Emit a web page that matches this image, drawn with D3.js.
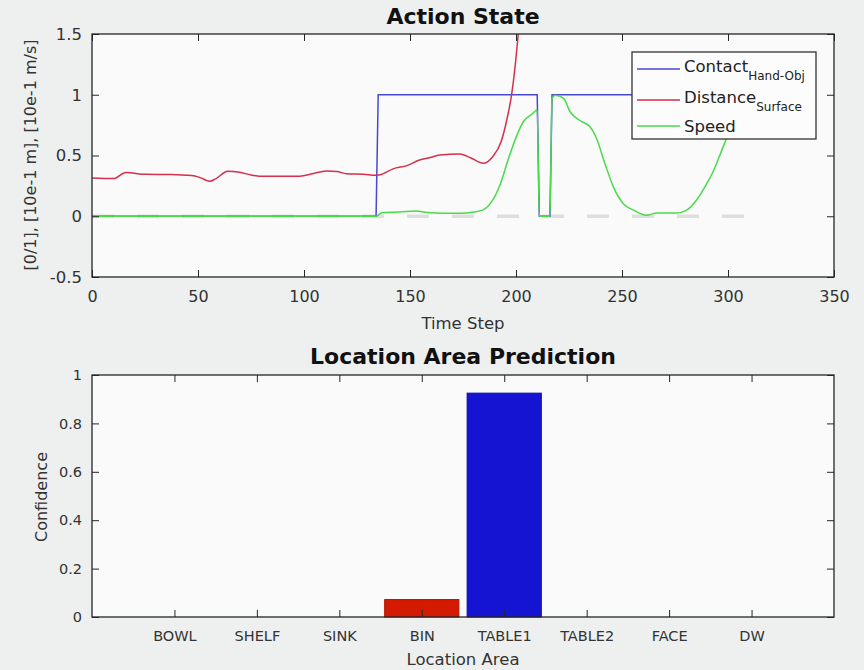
<!DOCTYPE html>
<html>
<head>
<meta charset="utf-8">
<script src="https://cdn.jsdelivr.net/npm/d3@7"></script>
<style>
  html, body { margin: 0; padding: 0; background: #eef0f0; }
  svg { display: block; font-family: "DejaVu Sans", sans-serif; }
</style>
</head>
<body>
<svg id="fig" width="864" height="670"></svg>
<script>
// ---- Action state time series ----
const contactT = [0, 134, 135, 210, 211, 216, 217, 306];
const contactV = [0, 0, 1, 1, 0, 0, 1, 1];

const distanceT = [0, 10, 16, 25, 37, 47, 51, 55.5, 58.5, 64, 69.5, 75, 81, 92, 98, 104, 110.5, 115.5, 120, 128, 134, 136.5, 139, 142, 148.5, 154.5, 159.5, 164, 173.5, 179, 184.5, 189, 193, 195.5, 198, 199.5, 201, 203];
const distanceV = [0.315, 0.31, 0.36, 0.345, 0.343, 0.335, 0.318, 0.288, 0.31, 0.37, 0.362, 0.34, 0.329, 0.329, 0.33, 0.35, 0.373, 0.368, 0.35, 0.345, 0.337, 0.343, 0.365, 0.39, 0.417, 0.463, 0.483, 0.505, 0.513, 0.477, 0.436, 0.49, 0.615, 0.78, 1.01, 1.22, 1.49, 1.9];

const speedT = [0, 134, 137, 145, 153, 158, 166, 174, 180, 184.5, 188.5, 192.5, 196.5, 200.5, 203.5, 207.5, 210, 211, 216, 217, 218.5, 222.5, 225.5, 230, 235, 238, 242, 246, 250.5, 255.5, 261.5, 266.5, 276, 280.5, 285, 290, 292.5, 297, 299.5, 303, 306];
const speedV = [0, 0, 0.03, 0.035, 0.044, 0.03, 0.025, 0.025, 0.035, 0.052, 0.12, 0.26, 0.477, 0.67, 0.78, 0.84, 0.875, 0, 0, 0.97, 0.996, 0.97, 0.86, 0.79, 0.735, 0.64, 0.43, 0.24, 0.105, 0.05, 0.008, 0.027, 0.027, 0.05, 0.13, 0.27, 0.35, 0.54, 0.65, 0.8, 0.9];

// zero reference line span
const zeroLineT = [0, 308];

const timeTicks = [0, 50, 100, 150, 200, 250, 300, 350];
const stateTicks = [-0.5, 0, 0.5, 1, 1.5];
const stateTickLabels = ["-0.5", "0", "0.5", "1", "1.5"];

// ---- Location area prediction ----
const areas = ["BOWL", "SHELF", "SINK", "BIN", "TABLE1", "TABLE2", "FACE", "DW"];
const confidence = [0, 0, 0, 0.072, 0.925, 0, 0, 0];
const confTicks = [0, 0.2, 0.4, 0.6, 0.8, 1];
const confTickLabels = ["0", "0.2", "0.4", "0.6", "0.8", "1"];

const legendNames = [["Contact", "Hand-Obj"], ["Distance", "Surface"], ["Speed", ""]];

// ---- styling ----
const colContact = "#4848d0";
const colDistance = "#d2304c";
const colSpeed = "#48dc48";
const axisCol = "#262626";
const textCol = "#333";
const plotBg = "#fafafa";

const svg = d3.select("#fig");

function frame(g, w, h) {
  g.append("rect").attr("width", w).attr("height", h)
    .attr("fill", plotBg);
}
function border(g, w, h) {
  g.append("rect").attr("width", w).attr("height", h)
    .attr("fill", "none").attr("stroke", axisCol).attr("stroke-width", 1.3);
}
function styleAxis(sel, fs) {
  sel.select(".domain").remove();
  sel.selectAll(".tick line").attr("stroke", axisCol).attr("stroke-width", 1);
  sel.selectAll(".tick text").attr("fill", textCol).attr("font-size", fs)
    .attr("font-family", "DejaVu Sans, sans-serif");
}

// ================= Top: Action State =================
const topBox = { x: 92, y: 34, w: 742, h: 243 };
const gT = svg.append("g").attr("transform", `translate(${topBox.x},${topBox.y})`);
frame(gT, topBox.w, topBox.h);

const xT = d3.scaleLinear().domain([0, 350]).range([0, topBox.w]);
const yT = d3.scaleLinear().domain([-0.5, 1.5]).range([topBox.h, 0]);

svg.append("defs").append("clipPath").attr("id", "clipTop")
  .append("rect").attr("width", topBox.w).attr("height", topBox.h);

const plotArea = gT.append("g").attr("clip-path", "url(#clipTop)");

// light dashed zero line
plotArea.append("line")
  .attr("x1", xT(zeroLineT[0])).attr("x2", xT(zeroLineT[1]))
  .attr("y1", yT(0)).attr("y2", yT(0))
  .attr("stroke", "#dedede").attr("stroke-width", 3.5)
  .attr("stroke-dasharray", "22,23");

const zip = (ts, vs) => ts.map((t, i) => [t, vs[i]]);
const lineLin = d3.line().x(d => xT(d[0])).y(d => yT(d[1]));
const lineSmooth = d3.line().x(d => xT(d[0])).y(d => yT(d[1])).curve(d3.curveMonotoneX);

plotArea.append("path").datum(zip(contactT, contactV))
  .attr("d", lineLin).attr("fill", "none").attr("stroke", colContact).attr("stroke-width", 1.5);
plotArea.append("path").datum(zip(distanceT, distanceV))
  .attr("d", lineSmooth).attr("fill", "none").attr("stroke", colDistance).attr("stroke-width", 1.5);
plotArea.append("path").datum(zip(speedT, speedV))
  .attr("d", lineSmooth).attr("fill", "none").attr("stroke", colSpeed).attr("stroke-width", 1.5);

// axes with inward ticks on all four sides
gT.append("g").attr("transform", `translate(0,${topBox.h})`)
  .call(d3.axisBottom(xT).tickValues(timeTicks).tickFormat(d3.format("d")).tickSize(-7).tickPadding(14))
  .call(s => styleAxis(s, 16));
gT.append("g")
  .call(d3.axisTop(xT).tickValues(timeTicks).tickFormat("").tickSize(-7))
  .call(s => styleAxis(s, 16));
gT.append("g")
  .call(d3.axisLeft(yT).tickValues(stateTicks).tickFormat((d, i) => stateTickLabels[i]).tickSize(-7).tickPadding(10))
  .call(s => styleAxis(s, 16.5));
gT.append("g").attr("transform", `translate(${topBox.w},0)`)
  .call(d3.axisRight(yT).tickValues(stateTicks).tickFormat("").tickSize(-7))
  .call(s => styleAxis(s, 16));
border(gT, topBox.w, topBox.h);

// legend
const lg = gT.append("g").attr("transform", `translate(${632 - topBox.x},${52 - topBox.y})`);
lg.append("rect").attr("width", 184).attr("height", 87)
  .attr("fill", "#fcfcfc").attr("stroke", "#333").attr("stroke-width", 1.3);
const legendCols = [colContact, colDistance, colSpeed];
const legendLineY = [17, 48, 74];
const legendTextY = [20, 51, 80];
legendNames.forEach((nm, i) => {
  lg.append("line").attr("x1", 5).attr("x2", 48)
    .attr("y1", legendLineY[i]).attr("y2", legendLineY[i])
    .attr("stroke", legendCols[i]).attr("stroke-width", 1.4);
  const t = lg.append("text").attr("x", 52).attr("y", legendTextY[i])
    .attr("fill", "#222").attr("font-size", 16.5);
  t.append("tspan").text(nm[0]);
  if (nm[1]) {
    t.append("tspan").attr("dy", 8).attr("font-size", 12).text(nm[1]);
  }
});

// titles and labels
svg.append("text").attr("x", 463).attr("y", 24).attr("text-anchor", "middle")
  .attr("font-size", 22).attr("font-weight", "bold").attr("fill", "#111").text("Action State");
svg.append("text").attr("x", 463).attr("y", 329).attr("text-anchor", "middle")
  .attr("font-size", 16.5).attr("fill", textCol).text("Time Step");
svg.append("text").attr("transform", "translate(36,155) rotate(-90)").attr("text-anchor", "middle")
  .attr("font-size", 16).attr("fill", textCol).text("[0/1], [10e-1 m], [10e-1 m/s]");

// ================= Bottom: Location Area Prediction =================
const botBox = { x: 92, y: 375, w: 742, h: 242 };
const gB = svg.append("g").attr("transform", `translate(${botBox.x},${botBox.y})`);
frame(gB, botBox.w, botBox.h);

const xB = d3.scaleLinear().domain([0, areas.length + 1]).range([0, botBox.w]);
const yB = d3.scaleLinear().domain([0, 1]).range([botBox.h, 0]);
const barW = xB(0.9) - xB(0);
const barFill = d => d.name === "BIN" ? "#d41a00" : "#1414d2";
const barEdge = d => d.name === "BIN" ? "#b01000" : "#0c0cb0";

const barData = areas.map((a, i) => ({ name: a, pos: i + 1, v: confidence[i] }));
gB.selectAll("rect.bar").data(barData.filter(d => d.v > 0)).join("rect")
  .attr("class", "bar")
  .attr("x", d => xB(d.pos) - barW / 2)
  .attr("y", d => yB(d.v))
  .attr("width", barW)
  .attr("height", d => yB(0) - yB(d.v))
  .attr("fill", barFill)
  .attr("stroke", barEdge).attr("stroke-width", 1);

const catPos = areas.map((a, i) => i + 1);
gB.append("g").attr("transform", `translate(0,${botBox.h})`)
  .call(d3.axisBottom(xB).tickValues(catPos).tickFormat((d, i) => areas[i]).tickSize(-7).tickPadding(14))
  .call(s => styleAxis(s, 14.5));
gB.append("g")
  .call(d3.axisTop(xB).tickValues(catPos).tickFormat("").tickSize(-7))
  .call(s => styleAxis(s, 14.5));
gB.append("g")
  .call(d3.axisLeft(yB).tickValues(confTicks).tickFormat((d, i) => confTickLabels[i]).tickSize(-7).tickPadding(10))
  .call(s => styleAxis(s, 14.5));
gB.append("g").attr("transform", `translate(${botBox.w},0)`)
  .call(d3.axisRight(yB).tickValues(confTicks).tickFormat("").tickSize(-7))
  .call(s => styleAxis(s, 14.5));
border(gB, botBox.w, botBox.h);

svg.append("text").attr("x", 463).attr("y", 364).attr("text-anchor", "middle")
  .attr("font-size", 22).attr("font-weight", "bold").attr("fill", "#111").text("Location Area Prediction");
svg.append("text").attr("x", 463).attr("y", 665).attr("text-anchor", "middle")
  .attr("font-size", 16.5).attr("fill", textCol).text("Location Area");
svg.append("text").attr("transform", "translate(47,497) rotate(-90)").attr("text-anchor", "middle")
  .attr("font-size", 16).attr("fill", textCol).text("Confidence");
</script>
</body>
</html>
